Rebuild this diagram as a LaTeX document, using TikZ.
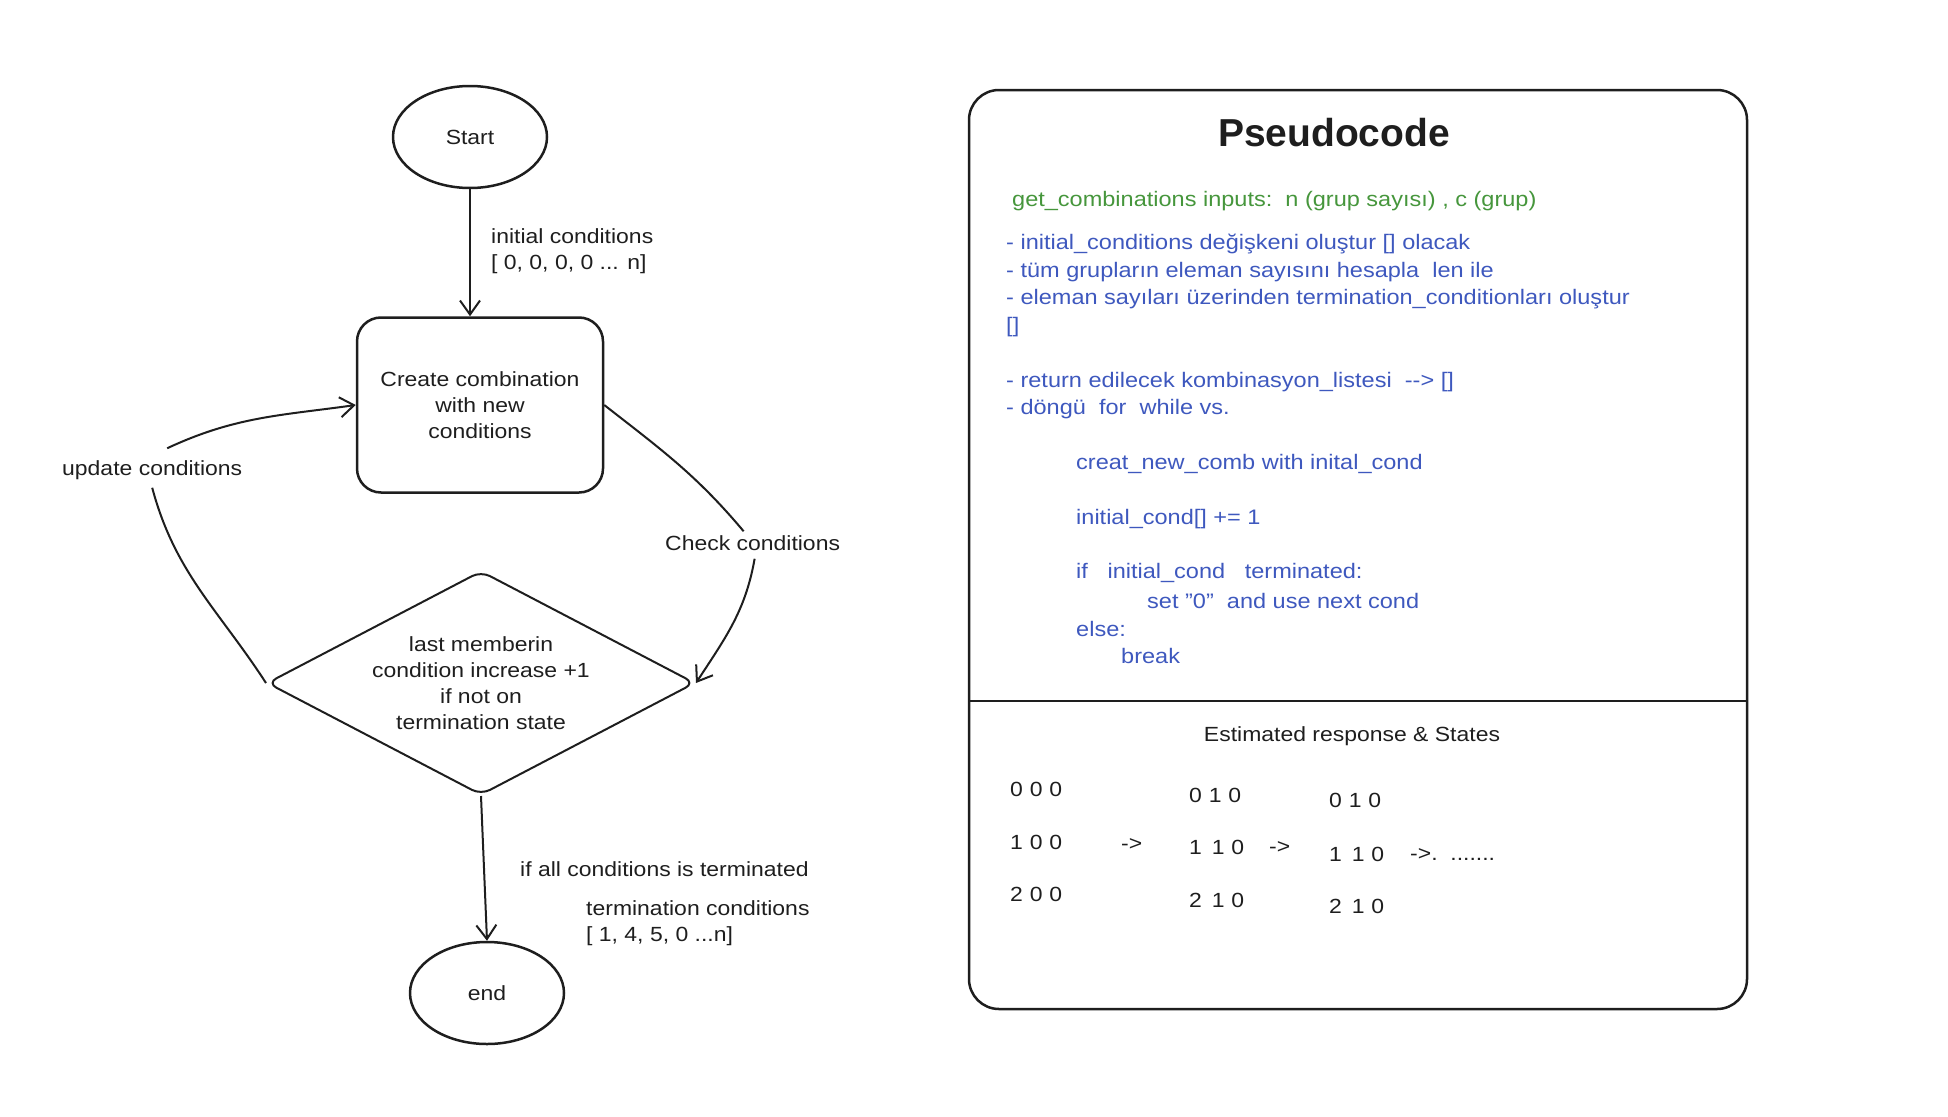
\documentclass[tikz,border=0pt]{standalone}
\usepackage{fontspec}
\setmainfont{Liberation Sans}[FakeStretch=1.12]
\newfontfamily\titlefont{Liberation Sans}
\usetikzlibrary{shapes.geometric,arrows.meta}
\definecolor{codegreen}{RGB}{70,150,60}
\definecolor{codeblue}{RGB}{62,88,190}
\definecolor{ink}{RGB}{30,30,30}
\begin{document}
\begin{tikzpicture}[x=1pt,y=-1pt,
  every node/.style={font=\fontsize{20.5}{26}\selectfont, text=ink},
  term/.style={draw=ink, line width=2.5pt, ellipse, minimum width=154pt, minimum height=102pt, inner sep=0},
  procbox/.style={draw=ink, line width=2.5pt, rounded corners=24pt, minimum width=246pt, minimum height=175pt, align=center},
  decision/.style={draw=ink, line width=2pt, diamond, rounded corners=10pt, minimum width=428pt, minimum height=224pt, inner sep=0, aspect=1.94, align=center},
  lbl/.style={anchor=west, align=left, inner sep=0},
  conn/.style={draw=ink, line width=2pt},
  arr/.style={conn, -{Straight Barb[length=14pt,width=20pt]}},
  code/.style={anchor=west, inner sep=0, text=codeblue, font=\fontsize{21}{27}\selectfont},
  num/.style={anchor=west, inner sep=0},
  panelbox/.style={draw=ink, line width=2.5pt, rounded corners=30pt, minimum width=778pt, minimum height=919pt, inner sep=0}
]
\path[use as bounding box] (0,0) rectangle (1948,1116);

% flowchart
\node[term] (start) at (470,137) {Start};
\node[procbox] (proc) at (480,405) {Create combination\\with new\\conditions};
\node[decision] (dec) at (481,683) {last memberin\\condition increase +1\\if not on\\termination state};
\node[term] (end) at (487,993) {end};

\node[lbl] (initlbl) at (491,251) {initial conditions\\{}[ 0, 0, 0, 0 ... n]};
\node[lbl] (checklbl) at (665,543) {Check conditions};
\node[lbl] (updlbl) at (62,470) {update conditions};
\node[lbl] (alllbl) at (520,869) {if all conditions is terminated};
\node[lbl] (termlbl) at (586,923) {termination conditions\\{}[ 1, 4, 5, 0 ...n]};

\draw[arr] (start.south) -- (start.south |- proc.north);
\draw[conn] (proc.east) to[out=-38,in=130] ([xshift=-9pt,yshift=4pt]checklbl.north);
\draw[arr] ([xshift=2pt,yshift=-8pt]checklbl.south) to[out=-100,in=57] (dec.east);
\draw[conn] (dec.west) to[out=123,in=-75] ([yshift=-8pt]updlbl.south);
\draw[arr] ([xshift=15pt,yshift=12pt]updlbl.north) to[out=25,in=188] (proc.west);
\draw[arr] (dec.south) -- (end.north);

% pseudocode panel
\node[panelbox] (panel) at (1358,549.5) {};
\coordinate (divl) at (969,701);
\coordinate (divr) at (1747,701);
\draw[ink, line width=2.5pt] (divl) -- (divr);

\node[font=\fontsize{39}{46}\selectfont\titlefont\bfseries] (title) at (1334,133) {Pseudocode};

\node[code, text=codegreen] (sig) at (1012,201) {get\_combinations inputs:\ \ n (grup sayısı) , c (grup)};
\node[code] (c1) at (1006,244) {- initial\_conditions değişkeni oluştur [] olacak};
\node[code] (c2) at (1006,272) {- tüm grupların eleman sayısını hesapla\ \ len ile};
\node[code] (c3) at (1006,299) {- eleman sayıları üzerinden termination\_conditionları oluştur};
\node[code] (c4) at (1006,327) {{[]}};
\node[code] (c5) at (1006,382) {- return edilecek kombinasyon\_listesi\ \ -{}-> []};
\node[code] (c6) at (1006,409) {- döngü\ \ for\ \ while vs.};
\node[code] (c7) at (1076,464) {creat\_new\_comb with inital\_cond};
\node[code] (c8) at (1076,519) {initial\_cond[] += 1};
\node[code] (c9) at (1076,573) {if\ \ \ initial\_cond\ \ \ terminated:};
\node[code] (c10) at (1147,601) {set "0"\ \ and use next cond};
\node[code] (c11) at (1076,629) {else:};
\node[code] (c12) at (1121,656) {break};

% states
\node (esttitle) at (1352,736) {Estimated response \& States};
\node[num] (a1) at (1010,789) {0\,\,0\,\,0};
\node[num] (a2) at (1010,842) {1\,\,0\,\,0};
\node[num] (a3) at (1010,894) {2\,\,0\,\,0};
\node[num] (ar1) at (1121,845) {->};
\node[num] (b1) at (1189,795) {0\,\,1\,\,0};
\node[num] (b2) at (1189,847) {1\ \,1\,\,0};
\node[num] (b3) at (1189,900) {2\ \,1\,\,0};
\node[num] (ar2) at (1269,848) {->};
\node[num] (d1) at (1329,800) {0\,\,1\,\,0};
\node[num] (d2) at (1329,854) {1\ \,1\,\,0};
\node[num] (d3) at (1329,906) {2\ \,1\,\,0};
\node[num] (ar3) at (1410,855) {->.\ \ .......};
\end{tikzpicture}
\end{document}
